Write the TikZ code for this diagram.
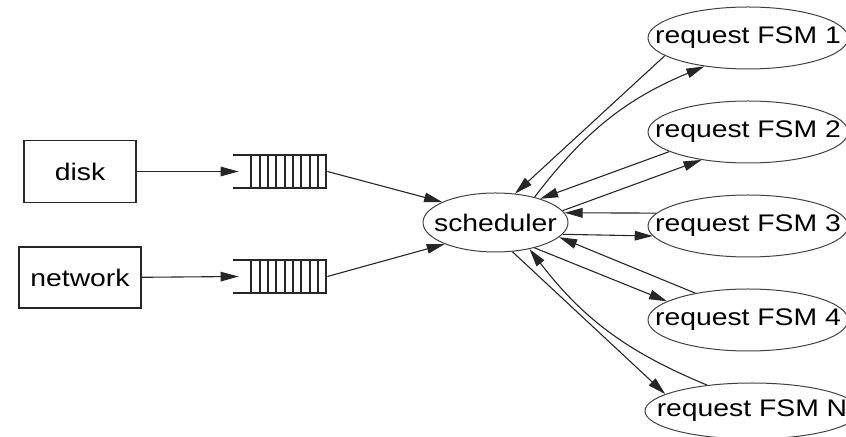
\documentclass[tikz,border=0pt]{standalone}
\usepackage{fontspec}
\newfontfamily\diagfont[FakeStretch=1.18]{Liberation Sans}
\usepackage{tikz}
\usetikzlibrary{arrows.meta,positioning,shapes.geometric}

\begin{document}
\begin{tikzpicture}[x=0.5pt,y=-0.5pt,
  font=\diagfont\fontsize{12}{14}\selectfont,
  box/.style={rectangle,draw=black!85,line width=0.9pt,minimum height=31pt},
  fsm/.style={ellipse,draw=black!75,line width=0.5pt,inner xsep=-12pt,inner ysep=0pt,minimum width=100pt,minimum height=31pt},
  queue/.style={rectangle,minimum width=47pt,minimum height=16pt,inner sep=0pt},
  qline/.style={line width=0.9pt,black!85},
  edge/.style={-{Triangle[length=9pt,width=4.8pt]},line width=0.55pt,black!85}]
\useasboundingbox (0,0) rectangle (846,437);
% sources
\node (disk) [box,minimum width=56pt] at (80,171.5) {disk};
\node (net) [box,minimum width=61pt,minimum height=30.5pt,below=21.5pt of disk] {network};
% queues
\node (q1) [queue] at (280,171.5) {};
\node (q2) [queue] at (280,276.5) {};
\foreach \q in {q1,q2} {
  \draw[qline] (\q.north west) -- (\q.north east) (\q.south west) -- (\q.south east);
  \foreach \k in {0,...,9}
    \draw[qline] ([xshift={9.35pt+\k*4.17pt}]\q.north west) -- ([xshift={9.35pt+\k*4.17pt}]\q.south west);
}
% scheduler and request machines
\node (sched) [fsm,inner xsep=-6pt,minimum width=72.5pt,minimum height=29.5pt] at (495.5,222.5) {scheduler};
\node (f1) [fsm] at (748,38) {request FSM 1};
\node (f2) [fsm,below=15.5pt of f1] {request FSM 2};
\node (f3) [fsm,below=15.5pt of f2] {request FSM 3};
\node (f4) [fsm,below=15.5pt of f3] {request FSM 4};
\node (fN) [fsm,minimum width=107pt,minimum height=28pt,below=15.5pt of f4,xshift=2pt] {request FSM N};
% connectors
\draw[edge] (disk) -- ([xshift=3pt]q1.west);
\draw[edge] (net) -- ([xshift=3pt]q2.west);
\draw[edge] (q1.east) -- (sched.159);
\draw[edge] (q2.east) -- (sched.203);
\draw[edge] (f1.192) -- (sched.56);
\draw[edge] (sched.33) to[bend left=15] (f1.213);
\draw[edge] (f2.194) -- (sched.28);
\draw[edge] (sched.10) -- (f2.211);
\draw[edge] (f3.172) -- (sched.8);
\draw[edge] (sched.-10) -- (f3.186);
\draw[edge] (f4.153) -- (sched.-13);
\draw[edge] (sched.-33) -- (f4.167);
\draw[edge] (fN.150) to[bend left=15] (sched.-38);
\draw[edge] (sched.-60) -- (fN.169);
\end{tikzpicture}
\end{document}
